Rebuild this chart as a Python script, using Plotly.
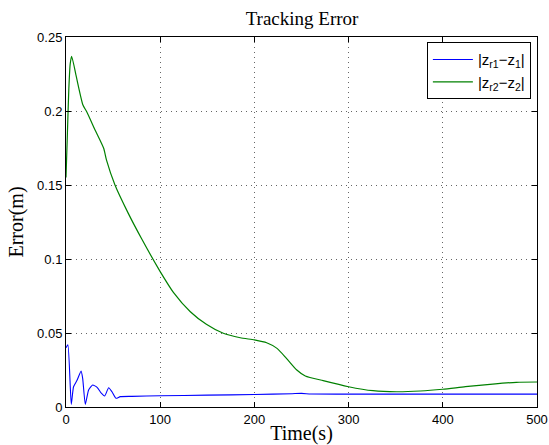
import plotly.graph_objects as go

# Data
t_green = [0, 1.5, 3, 4.5, 6, 11, 18, 22, 31, 40, 43, 52, 66, 80, 100, 114, 132, 149,
           167, 185, 200, 213, 224, 234, 245, 254, 273, 300, 326, 351, 376, 400, 424,
           453, 478, 500]
err_green = [0.155, 0.185, 0.215, 0.232, 0.237, 0.223, 0.204, 0.1995, 0.187, 0.1748,
             0.1668, 0.150, 0.131, 0.114, 0.0915, 0.0775, 0.0644, 0.0559, 0.0498, 0.0468,
             0.0453, 0.0434, 0.0396, 0.0329, 0.025, 0.021, 0.0178, 0.0137, 0.011, 0.0103,
             0.0108, 0.012, 0.0137, 0.0155, 0.0167, 0.0169]

t_blue = [0, 2, 5.6, 8, 11.7, 16, 17.7, 20.5, 24, 28.3, 33, 37.5, 41, 45.3, 48.8, 53,
          57.6, 70, 100, 150, 200, 240, 250, 260, 300, 400, 500]
err_blue = [0.040, 0.042, 0.0018, 0.0137, 0.018, 0.0243, 0.0194, 0.0018, 0.0115, 0.0149,
            0.0133, 0.0093, 0.0074, 0.013, 0.0103, 0.0059, 0.007, 0.0072, 0.0076, 0.008,
            0.0084, 0.009, 0.0092, 0.0088, 0.0087, 0.0087, 0.0087]

x_ticks = [0, 100, 200, 300, 400, 500]
y_ticks = [0, 0.05, 0.1, 0.15, 0.2, 0.25]
y_tick_labels = ["0", "0.05", "0.1", "0.15", "0.2", "0.25"]

fig = go.Figure()
fig.add_trace(go.Scatter(x=t_blue, y=err_blue, mode="lines",
                         line=dict(color="#0000ff", width=1.1, shape="spline", smoothing=0.5),
                         name="|z<sub>r1</sub>\u2212z<sub>1</sub>|"))
fig.add_trace(go.Scatter(x=t_green, y=err_green, mode="lines",
                         line=dict(color="#008000", width=1.2, shape="spline", smoothing=0.6),
                         name="|z<sub>r2</sub>\u2212z<sub>2</sub>|"))

axis_common = dict(showline=True, linecolor="black", linewidth=1, mirror="allticks",
                   ticks="inside", ticklen=5, tickcolor="black", automargin=False,
                   showgrid=True, gridcolor="rgba(0,0,0,0.6)", griddash="1px,4px", gridwidth=1,
                   zeroline=False,
                   tickfont=dict(family="Liberation Sans, Arial, sans-serif", size=13, color="black"))

fig.update_xaxes(range=[0, 500], tickvals=x_ticks,
                 title=dict(text="Time(s)", standoff=0,
                            font=dict(family="Liberation Serif, serif", size=20, color="black")),
                 **axis_common)
fig.update_yaxes(range=[0, 0.25], tickvals=y_ticks, ticktext=y_tick_labels,
                 title=dict(text="Error(m)", standoff=8,
                            font=dict(family="Liberation Serif, serif", size=20, color="black")),
                 **axis_common)

fig.update_layout(
    width=549, height=445,
    margin=dict(l=66, r=12, t=37, b=38, autoexpand=False),
    paper_bgcolor="white", plot_bgcolor="white",
    title=dict(text="Tracking Error", x=302 / 549, xanchor="center",
               y=1 - 18 / 445, yanchor="middle",
               font=dict(family="Liberation Serif, serif", size=19, color="black")),
    showlegend=True,
    legend=dict(x=0.987, y=0.986, xanchor="right", yanchor="top",
                bgcolor="white", bordercolor="black", borderwidth=1,
                font=dict(family="Liberation Sans, Arial, sans-serif", size=15, color="black"),
                itemwidth=40),
)

fig.write_html("out.html", config={"displayModeBar": False},
               post_script="document.body.style.margin='0';document.body.style.overflow='hidden';")
